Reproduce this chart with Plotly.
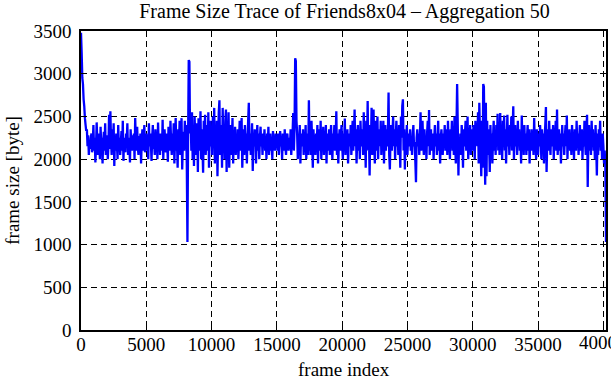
import plotly.graph_objects as go

# Aggregated frame sizes (bytes), one value per 50 frames
frame_step = 50
frame_sizes = [
    3480, 3250, 2950, 2880, 2700, 2620, 2480, 2400, 2330, 2350, 2150, 2280, 2050, 2200, 2120, 2250, 2300, 2080, 2180, 2400,
    2100, 2250, 1960, 2150, 2430, 2200, 2050, 2300, 2180, 2000, 2380, 2150, 2250, 1950, 2200, 2320, 2100, 2420, 2050, 2180,
    2280, 2000, 2150, 2520, 2120, 2560, 2200, 2050, 2350, 2150, 2420, 1920, 2250, 2100, 2300, 2180, 2000, 2400, 2150, 2250,
    2050, 2200, 2330, 2100, 2450, 1980, 2250, 2150, 2080, 2300, 2200, 2420, 2050, 2150, 2250, 1960, 2350, 2180, 2100, 2280,
    2150, 2300, 2000, 2480, 2200, 2100, 2380, 2150, 2050, 2270, 2180, 2300, 1950, 2200, 2350, 2100, 2250, 2400, 2080, 2200,
    2300, 2100, 2250, 2000, 2420, 2150, 2300, 2200, 1980, 2250, 2400, 2120, 2180, 2050, 2350, 2200, 2270, 2000, 2430, 2150,
    2250, 2050, 2300, 2180, 2100, 2460, 2000, 2250, 2350, 2150, 2080, 2300, 2200, 1970, 2380, 2250, 2100, 2450, 2200, 2050,
    2300, 2150, 2420, 1950, 2250, 2480, 2100, 2200, 1900, 2350, 2150, 2450, 2050, 2250, 2480, 1880, 2200, 2320, 2100, 2450,
    2150, 2400, 1950, 1030, 2250, 3160, 3140, 2300, 2450, 2100, 2550, 2000, 2350, 1920, 2500, 2200, 2050, 2420, 2300, 1850,
    2480, 2100, 2250, 2560, 2000, 2350, 2150, 1840, 2450, 2200, 2520, 2050, 2300, 2400, 2100, 2550, 1900, 2250, 2450, 2150,
    2300, 2050, 2500, 2200, 2600, 1950, 2350, 2150, 2450, 1800, 2250, 2550, 2690, 2050, 2200, 2400, 1900, 2600, 2100, 2350,
    2000, 2450, 2580, 1850, 2300, 2150, 2550, 1900, 2250, 2400, 2050, 2200, 2480, 1950, 2300, 2150, 2380, 2050, 2250, 2100,
    2350, 2000, 2200, 2450, 2100, 2300, 2480, 1900, 2200, 2350, 2050, 2400, 2150, 2300, 1950, 2250, 2450, 2660, 2100, 2300,
    2050, 2200, 2420, 1860, 2300, 2150, 2350, 2250, 1950, 2200, 2400, 2100, 2300, 2000, 2250, 2380, 2150, 2250, 2050, 2300,
    2200, 2350, 2100, 2250, 2000, 2300, 2150, 2380, 2050, 2200, 2300, 2100, 2250, 2000, 2330, 2150, 2250, 2100, 2300, 2180,
    2250, 2100, 2300, 2050, 2200, 2330, 2150, 2250, 2000, 2300, 2200, 2100, 2350, 2150, 2050, 2250, 2300, 2180, 2100, 2250,
    2150, 2350, 2050, 2250, 2300, 2540, 2100, 2350, 3180, 3150, 2450, 2300, 2000, 2250, 2150, 2400, 1950, 2300, 2200, 2150,
    2350, 2050, 2250, 2150, 2400, 2000, 2300, 2200, 2050, 2690, 2100, 2300, 2050, 2450, 2200, 1900, 2350, 2150, 2250, 2050,
    2300, 2150, 2400, 1950, 2250, 2350, 2100, 2450, 2000, 2300, 2200, 2380, 2050, 2250, 2150, 2400, 1950, 2300, 2200, 2100,
    2350, 2050, 2250, 2400, 2150, 2000, 2300, 2200, 2400, 2100, 2250, 2560, 2050, 2300, 1950, 2200, 2350, 2100, 2250, 2400,
    2150, 2000, 2300, 2200, 2475, 2050, 2250, 2100, 2350, 1950, 2200, 2300, 2150, 2400, 2050, 2250, 2450, 2100, 2300, 2580,
    2150, 2350, 1950, 2250, 2400, 2100, 2300, 2000, 2450, 2200, 2150, 2350, 2050, 2550, 2200, 2300, 1900, 2450, 2150, 2680,
    2100, 2250, 1810, 2400, 2150, 2600, 2050, 2350, 2580, 2200, 1950, 2450, 2100, 2300, 2500, 2000, 2250, 2350, 2150, 2450,
    2050, 2300, 2200, 2450, 1950, 2250, 2400, 2100, 2350, 2150, 2300, 2780, 2050, 1880, 2250, 2400, 2100, 2300, 2500, 2150,
    2350, 2000, 2250, 2450, 2150, 2300, 2050, 2400, 2200, 1900, 2500, 2250, 2620, 2700, 2100, 2350, 1880, 2250, 2150, 2400,
    2050, 2300, 2200, 2150, 2350, 2100, 2250, 2050, 2300, 2400, 2150, 2200, 1980, 1730, 2250, 2350, 2150, 2300, 2050, 2250,
    2550, 2100, 2300, 2450, 2200, 2050, 2350, 2150, 2250, 2000, 2300, 2450, 2150, 2575, 2050, 2250, 2350, 2100, 2200, 2300,
    2000, 2250, 2400, 2150, 2300, 2050, 2200, 2450, 2100, 2300, 1950, 2250, 2350, 2150, 2050, 2300, 2200, 2400, 2100, 2250,
    2350, 2050, 2450, 2150, 2250, 2000, 2350, 2200, 2450, 2100, 2300, 2050, 2500, 2200, 1950, 2350, 2880, 2400, 1810, 2250,
    2150, 2300, 2050, 2400, 2250, 1900, 2350, 2150, 2300, 2450, 2100, 2250, 2500, 2000, 2300, 2150, 2400, 2050, 2250, 2350,
    2100, 2400, 2250, 2000, 2450, 2200, 2350, 2150, 2550, 1950, 2660, 2300, 2100, 1800, 2450, 1900, 2880, 2850, 2200, 1700,
    2660, 1800, 2450, 2050, 2350, 2200, 1850, 2400, 2150, 2300, 1950, 2250, 2450, 2100, 2300, 2050, 2400, 2200, 2530, 2100,
    2350, 2050, 2540, 2150, 2300, 2000, 2450, 2200, 2510, 2100, 2350, 1950, 2250, 2520, 2150, 2300, 2050, 2400, 2200, 2500,
    2100, 2350, 2620, 2000, 2250, 2400, 2150, 2300, 2050, 2450, 2200, 2350, 2100, 2250, 1950, 2510, 2200, 2300, 2050, 2400,
    2150, 2300, 2050, 2250, 2400, 2100, 2350, 1950, 2250, 2200, 2350, 2100, 2300, 2050, 2480, 2150, 2250, 2000, 2350, 2200,
    2050, 2300, 2150, 2400, 2250, 2000, 2350, 2150, 2300, 1950, 2250, 2400, 2610, 1850, 2200, 2350, 2100, 2450, 2200, 2050,
    2350, 2150, 2250, 2400, 2000, 2300, 2200, 2450, 2100, 2580, 2050, 2250, 2350, 2100, 2300, 1950, 2200, 2400, 2150, 2300,
    2050, 2250, 2400, 2150, 2510, 2000, 2300, 2200, 2350, 2100, 2250, 2050, 2400, 2150, 2300, 2000, 2350, 2200, 2100, 2450,
    2150, 2300, 2050, 2250, 2400, 2100, 2200, 2350, 2000, 2300, 2150, 2450, 2200, 2050, 2350, 2520, 1675, 2250, 2400, 2100,
    2300, 2050, 2450, 2200, 2350, 2100, 2250, 2000, 2400, 2150, 1810, 2300, 2050, 2350, 2200, 2450, 2100, 2250, 2000, 2300,
    2150, 1950, 2100, 1900, 1030,
]
frame_index = [i * frame_step for i in range(len(frame_sizes))]

x_ticks = [0, 5000, 10000, 15000, 20000, 25000, 30000, 35000, 40000]
y_ticks = [0, 500, 1000, 1500, 2000, 2500, 3000, 3500]

title_text = "Frame Size Trace of Friends8x04 – Aggregation 50"
x_label = "frame index"
y_label = "frame size [byte]"

FONT = "Liberation Serif"
W, H = 611, 380
ML, MR, MT, MB = 81, 3, 31, 50
PW, PH = W - ML - MR, H - MT - MB

fig = go.Figure()
fig.add_trace(go.Scatter(
    x=frame_index, y=frame_sizes, mode="lines",
    line=dict(color="#0000ff", width=2.3, simplify=False),
    showlegend=False, hoverinfo="skip",
))

axis_common = dict(
    showline=True, linecolor="black", linewidth=1.5, mirror="ticks",
    ticks="inside", ticklen=6, tickwidth=1, tickcolor="black",
    showgrid=True, gridcolor="black", gridwidth=1, griddash="6px,4px",
    zeroline=False, tickfont=dict(family=FONT, size=19, color="black"),
)

x_max = frame_index[-1]
# the last x label is drawn as an annotation so it can run off the page edge
x_shown = [v for v in x_ticks if v < x_ticks[-1]]
fig.update_xaxes(range=[0, x_max], tickvals=x_ticks,
                 ticktext=[str(v) if v in x_shown else "" for v in x_ticks],
                 ticklabelstandoff=-4, **axis_common)
fig.update_yaxes(range=[0, 3500], tickvals=y_ticks,
                 ticktext=[str(v) for v in y_ticks], ticklabelstandoff=4, **axis_common)

fig.update_layout(
    width=W, height=H,
    margin=dict(l=ML, r=MR, t=MT, b=MB, pad=0),
    paper_bgcolor="white", plot_bgcolor="white",
    font=dict(family=FONT, size=19, color="black"),
    title=dict(text=title_text, x=(ML + PW / 2) / W, xanchor="center",
               y=1 - 11 / H, yanchor="middle", yref="container",
               font=dict(family=FONT, size=20, color="black")),
    annotations=[
        dict(text=str(x_ticks[-1]), xref="x", yref="paper", x=x_ticks[-1],
             y=-(342 - (H - MB)) / PH, xanchor="center", yanchor="middle",
             showarrow=False, font=dict(family=FONT, size=19, color="black")),
        dict(text=x_label, xref="paper", yref="paper", x=0.5,
             y=-(369 - (H - MB)) / PH, xanchor="center", yanchor="middle",
             showarrow=False, font=dict(family=FONT, size=19, color="black")),
        dict(text=y_label, xref="paper", yref="paper",
             x=-(ML - 12) / PW, y=0.5, xanchor="center", yanchor="middle",
             textangle=-90, showarrow=False, font=dict(family=FONT, size=19, color="black")),
    ],
)

fig.write_html("out.html")
